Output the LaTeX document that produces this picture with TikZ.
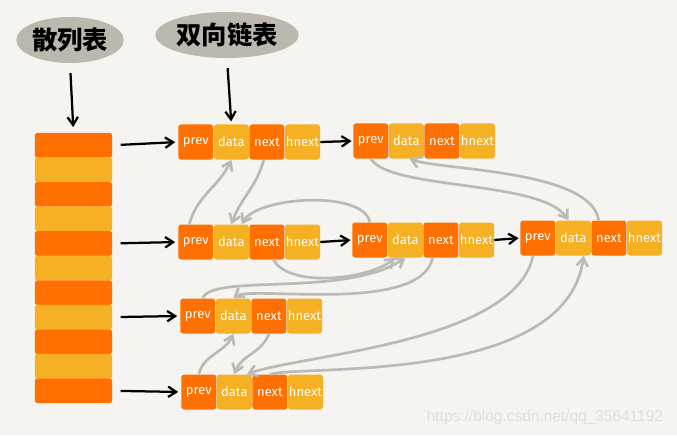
\documentclass[tikz,border=0pt]{standalone}
\usepackage{fontspec}
\usepackage{tikz}
\usetikzlibrary{arrows.meta,positioning,shapes.geometric}
\newfontfamily\cjk{Noto Sans CJK SC}
\newfontfamily\cellfont{Fira Sans}
\newfontfamily\markfont{Liberation Sans}
\definecolor{paper}{RGB}{245,244,240}
\definecolor{orng}{RGB}{255,112,0}
\definecolor{yell}{RGB}{246,176,36}
\definecolor{bubble}{RGB}{188,184,174}
\definecolor{linkgray}{RGB}{188,186,180}
\definecolor{wmgray}{RGB}{224,223,218}
\newcommand{\listnode}[3]{%
  \node[cellA, anchor=west] (#1-p) at (#2,#3) {prev};
  \node[cellB, right=0pt of #1-p] (#1-d) {data};
  \node[cellA, right=0pt of #1-d] (#1-n) {next};
  \node[cellB, right=0pt of #1-n] (#1-h) {hnext};
}

\begin{document}
\begin{tikzpicture}[x=0.025cm, y=0.025cm,
  cell/.style={minimum width=0.875cm, minimum height=0.875cm, inner sep=0pt,
               rounded corners=2pt, text=white,
               font=\cellfont\fontsize{9.2}{11}\selectfont},
  cellA/.style={cell, fill=orng},
  cellB/.style={cell, fill=yell},
  stripe/.style={minimum width=1.925cm, minimum height=0.614cm, inner sep=0pt,
                 rounded corners=1.5pt},
  bubble/.style={ellipse, fill=bubble, inner sep=0pt, minimum height=1.15cm,
                 font=\cjk\bfseries\fontsize{18}{20}\selectfont},
  ar/.style={-{Straight Barb[length=2mm,width=2.6mm]}, line width=1.6pt, draw=black},
  back/.style={-{Straight Barb[length=2mm,width=2.8mm]}, line width=1.9pt, draw=linkgray},
]
  \fill[paper] (0,0) rectangle (677,-435);
  \useasboundingbox (0,0) rectangle (677,-435);

  \node[bubble, minimum width=2.5cm] (ht) at (70,-40) {散列表};
  \node[bubble, minimum width=3.45cm] (dl) at (227,-35) {双向链表};

  \foreach \i in {1,...,11}{
    \ifodd\i \def\stripecol{orng}\else \def\stripecol{yell}\fi
    \node[stripe, fill=\stripecol] (h\i) at (73.5,{-133-24.55*(\i-0.5)}) {};
  }

  \listnode{a}{178}{-142}
  \listnode{b}{353}{-141}
  \listnode{c}{178}{-242}
  \listnode{d}{352}{-240}
  \listnode{e}{520}{-238}
  \listnode{f}{180}{-316}
  \listnode{g}{181}{-392}

  \draw[ar, shorten <=7pt, shorten >=4pt] (ht.south) -- (h1.north);
  \draw[ar, shorten <=7pt, shorten >=2pt] (dl.south) -- (a-d.north);

  \draw[ar, shorten <=6pt, shorten >=2pt] (h1.east) -- (a-p.west);
  \draw[ar, shorten <=6pt, shorten >=2pt] (h5.east) -- (c-p.west);
  \draw[ar, shorten <=6pt, shorten >=2pt] (h8.east) -- (f-p.west);
  \draw[ar, shorten <=6pt, shorten >=2pt] (h11.east) -- (g-p.west);

  \draw[ar, shorten >=1pt] (a-h.east) -- (b-p.west);
  \draw[ar, shorten >=1pt] (c-h.east) -- (d-p.west);
  \draw[ar, shorten >=1pt] (d-h.east) -- (e-p.west);

  \draw[back] (c-p.110) to[out=75,in=-115] (a-d.south);
  \draw[back] (a-n.-100) to[out=-105,in=70] (c-d.north);
  \draw[back] (d-p.north) to[out=100,in=60,looseness=0.65] (c-d.60);
  \draw[back] (c-n.-70) to[out=-60,in=-140,looseness=0.7] (d-d.-120);
  \draw[back] (f-p.75) .. controls +(10,25) and +(-60,-40) .. (d-d.south);
  \draw[back] (d-n.-115) .. controls +(-12,-57) and +(18,13) .. (f-d.north);
  \draw[back] (f-n.south) to[out=-110,in=70] (g-d.north);
  \draw[back] (g-p.north) to[out=75,in=-115] (f-d.south);
  \draw[back] (e-p.-105) .. controls +(-18,-87) and +(54,19.5) .. (g-d.55);
  \draw[back] (g-n.north) .. controls +(31.5,9.5) and +(-17.6,-129.5) .. (e-d.-60);
  \draw[back] (e-n.120) .. controls +(-7.4,50.5) and +(31.4,-11.5) .. (b-d.-80);
  \draw[back] (b-p.south) .. controls +(19.5,-31.5) and +(-27.8,40.5) .. (e-d.105);

  \node[anchor=base east, text=wmgray, font=\markfont\fontsize{11}{13}\selectfont]
       (wm) at (668,-421) {https://blog.csdn.net/qq\_35641192};
\end{tikzpicture}
\end{document}
